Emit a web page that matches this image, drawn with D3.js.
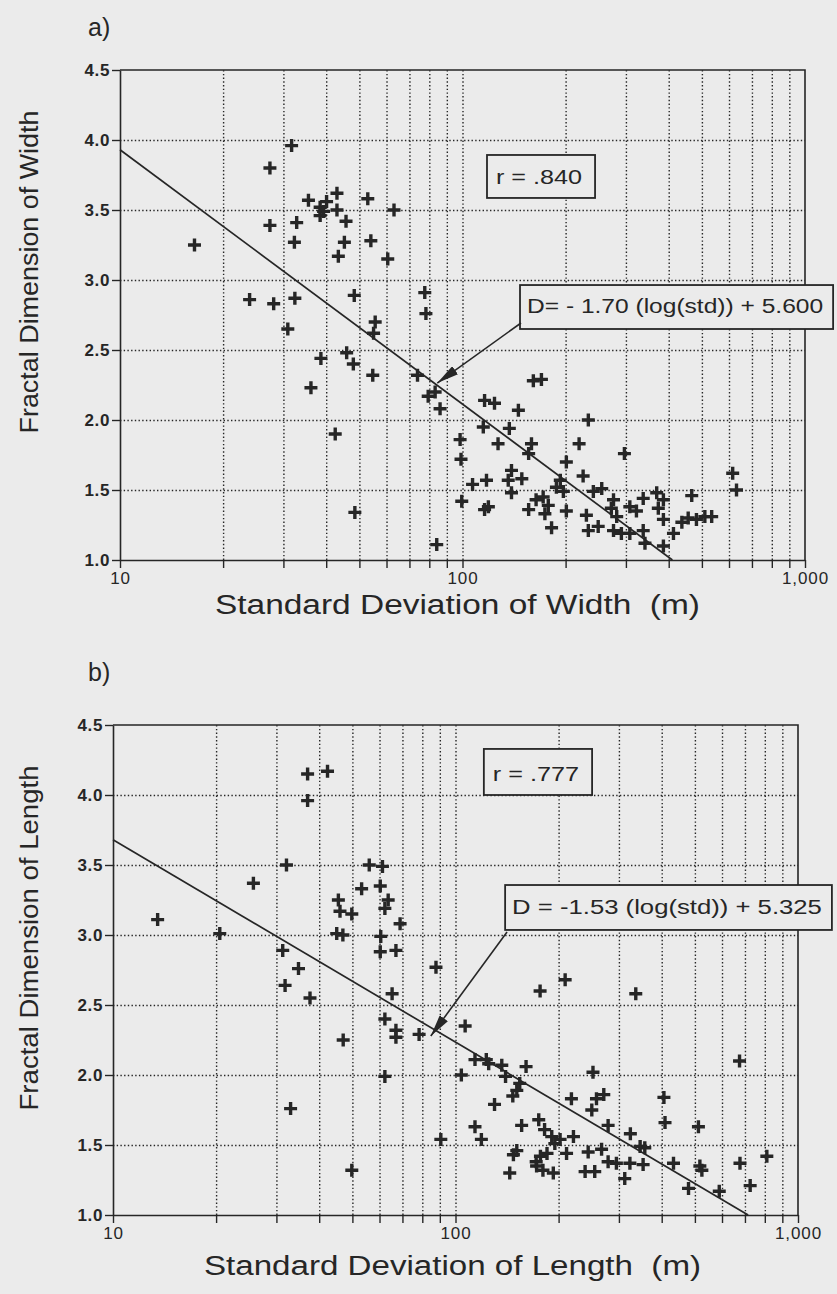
<!DOCTYPE html>
<html>
<head>
<meta charset="utf-8">
<script src="https://cdn.jsdelivr.net/npm/d3@7"></script>
<style>
    body { margin:0; background:#ebebeb; }
    svg { display:block; }
    text { font-family: "Liberation Sans", Arial, Helvetica, sans-serif; fill:#262626; }
</style>
</head>
<body>
<div id="chart"></div>
<script>

//******************************************************************************
//**  Data
//******************************************************************************

  //Panel a: std of width (m) vs fractal dimension of width
    var widthStd = [
        31.7, 27.4, 16.5, 35.5, 38.4, 40.1, 39.3, 38.4, 43.0, 43.0,
        45.7, 52.9, 63.1, 27.4, 32.8, 32.3, 45.2, 43.4, 54.0, 60.5,
        23.9, 28.1, 32.4, 48.3, 77.6, 30.9, 55.6, 55.0, 78.2, 38.6,
        45.9, 48.0, 54.7, 36.1, 73.9, 79.4, 83.2, 86.0, 42.5, 48.5,
        84.1, 161, 170, 116, 124, 145.6, 115, 137, 98.4, 99,
        127, 159, 156, 233, 219, 297, 201, 225, 139, 136,
        149, 117.5, 107, 139, 99.5, 116, 119, 193, 188, 197,
        172, 164, 178, 156, 174, 201, 182, 230, 241, 255,
        233, 249, 276, 272, 282, 276, 291, 308, 322, 308,
        337, 341, 337, 369, 386, 373, 386, 386, 413, 437,
        467, 456, 482, 510, 534, 615, 631
    ];
    var widthD = [
        3.96, 3.80, 3.25, 3.57, 3.52, 3.56, 3.49, 3.46, 3.62, 3.50,
        3.42, 3.58, 3.50, 3.39, 3.41, 3.27, 3.27, 3.17, 3.28, 3.15,
        2.86, 2.83, 2.87, 2.89, 2.91, 2.65, 2.70, 2.62, 2.76, 2.44,
        2.48, 2.40, 2.32, 2.23, 2.32, 2.17, 2.20, 2.08, 1.90, 1.34,
        1.11, 2.28, 2.29, 2.14, 2.12, 2.07, 1.95, 1.94, 1.86, 1.72,
        1.83, 1.83, 1.76, 2.00, 1.83, 1.76, 1.70, 1.60, 1.64, 1.57,
        1.58, 1.57, 1.54, 1.48, 1.42, 1.36, 1.38, 1.57, 1.52, 1.49,
        1.45, 1.43, 1.39, 1.36, 1.33, 1.35, 1.23, 1.32, 1.49, 1.51,
        1.21, 1.24, 1.43, 1.37, 1.31, 1.21, 1.19, 1.38, 1.35, 1.19,
        1.21, 1.12, 1.44, 1.48, 1.43, 1.37, 1.29, 1.10, 1.19, 1.27,
        1.46, 1.30, 1.29, 1.31, 1.31, 1.62, 1.50
    ];

  //Panel b: std of length (m) vs fractal dimension of length
    var lengthStd = [
        37, 42.3, 37, 32.1, 56, 61.2, 25.7, 53.2, 60.3, 45.5,
        63.6, 46, 49.8, 62.2, 68.9, 13.5, 20.5, 45, 46.9, 60.5,
        60.3, 67, 31.3, 34.8, 31.8, 37.6, 87.7, 65.3, 62.2, 67,
        67, 78.3, 47, 62.2, 33, 90.6, 49.8, 209, 176.6, 336,
        106.7, 114, 123, 125, 136.5, 160.7, 140, 104, 252, 675,
        154, 151, 147, 130, 218, 258, 271, 250, 406, 409,
        512, 279, 324, 114, 119, 156, 175, 182, 191, 195,
        202, 221, 211, 147.6, 151, 177, 185, 172.5, 180, 193,
        144, 244, 267, 239, 255, 279, 295, 323, 312, 346,
        357, 353, 433, 517, 524, 479, 589, 677, 725, 811,
        172
    ];
    var lengthD = [
        4.15, 4.17, 3.96, 3.50, 3.50, 3.49, 3.37, 3.33, 3.35, 3.25,
        3.25, 3.17, 3.15, 3.19, 3.08, 3.11, 3.01, 3.01, 3.00, 2.99,
        2.88, 2.89, 2.89, 2.76, 2.64, 2.55, 2.77, 2.58, 2.40, 2.32,
        2.27, 2.29, 2.25, 1.99, 1.76, 1.54, 1.32, 2.68, 2.60, 2.58,
        2.35, 2.11, 2.11, 2.08, 2.07, 2.06, 1.99, 2.00, 2.02, 2.10,
        1.94, 1.89, 1.85, 1.79, 1.83, 1.83, 1.86, 1.75, 1.84, 1.66,
        1.63, 1.64, 1.58, 1.63, 1.54, 1.64, 1.68, 1.61, 1.56, 1.51,
        1.54, 1.56, 1.44, 1.43, 1.46, 1.42, 1.44, 1.35, 1.32, 1.30,
        1.30, 1.45, 1.47, 1.31, 1.31, 1.38, 1.37, 1.37, 1.26, 1.49,
        1.48, 1.36, 1.37, 1.35, 1.32, 1.19, 1.17, 1.37, 1.21, 1.42,
        1.38
    ];

  //Fitted lines as drawn (end points)
    var widthFitStd = [10, 410];
    var widthFitD   = [3.93, 1.0];
    var lengthFitStd = [10, 715];
    var lengthFitD   = [3.68, 1.0];

  //Axes
    var yTicks = [1.0, 1.5, 2.0, 2.5, 3.0, 3.5, 4.0, 4.5];
    var xGrid = [20, 30, 40, 50, 60, 70, 80, 90, 100, 200, 300, 400, 500, 600, 700, 800, 900];
    var xTicks = [10, 20, 30, 40, 50, 60, 70, 80, 90, 100, 200, 300, 400, 500, 600, 700, 800, 900, 1000];
    var xTickLabels = {10: "10", 100: "100", 1000: "1,000"};


//******************************************************************************
//**  Layout
//******************************************************************************
    var panels = [
        {
            tag: "a)", tagX: 88, tagY: 36,
            left: 120, right: 805, top: 70, bottom: 560,
            std: widthStd, d: widthD,
            fitStd: widthFitStd, fitD: widthFitD,
            yTitle: "Fractal Dimension of Width", yTitleX: 38, yTitleMid: 272, yTitleLen: 323,
            xTitle: "Standard Deviation of Width  (m)", xTitleX: 215, xTitleY: 614, xTitleLen: 485,
            rText: "r = .840", rBox: [117.9, 243.8, 3.893, 3.586],
            eqText: "D= - 1.70 (log(std)) + 5.600", eqBox: [147.2, 1208, 2.964, 2.65],
            arrow: [148.2, 2.693, 84.4, 2.264]
        },
        {
            tag: "b)", tagX: 88, tagY: 681,
            left: 113, right: 798, top: 725, bottom: 1215,
            std: lengthStd, d: lengthD,
            fitStd: lengthFitStd, fitD: lengthFitD,
            yTitle: "Fractal Dimension of Length", yTitleX: 38, yTitleMid: 938, yTitleLen: 345,
            xTitle: "Standard Deviation of Length  (m)", xTitleX: 204, xTitleY: 1275, xTitleLen: 497,
            rText: "r = .777", rBox: [121, 250.5, 4.329, 4.0],
            eqText: "D = -1.53 (log(std)) + 5.325", eqBox: [139.6, 1256, 3.357, 3.036],
            arrow: [141.4, 3.021, 84.7, 2.279]
        }
    ];

    var ink = "#262626";
    var bg = "#ebebeb";


    var svg = d3.select("#chart").append("svg")
        .attr("width", 837)
        .attr("height", 1294);

    svg.append("rect")
        .attr("width", 837).attr("height", 1294)
        .attr("fill", bg);

    var defs = svg.append("defs");
    defs.append("marker")
        .attr("id", "head")
        .attr("viewBox", "0 0 22 10")
        .attr("refX", 22).attr("refY", 5)
        .attr("markerUnits", "userSpaceOnUse")
        .attr("markerWidth", 22).attr("markerHeight", 10)
        .attr("orient", "auto")
      .append("path")
        .attr("d", "M0,0L22,5L0,10Z")
        .attr("fill", ink);


//******************************************************************************
//**  drawPanel
//******************************************************************************
    var drawPanel = function(p){

        var x = d3.scaleLog().domain([10, 1000]).range([p.left, p.right]);
        var y = d3.scaleLinear().domain([1, 4.5]).range([p.bottom, p.top]);
        var w = p.right - p.left;
        var h = p.bottom - p.top;

        var g = svg.append("g");


      //Dotted grid
        g.append("g")
            .attr("transform", "translate(0," + p.bottom + ")")
            .call(d3.axisBottom(x).tickValues(xGrid).tickSize(-h).tickFormat(""))
            .call(function(s){
                s.select(".domain").remove();
                s.selectAll("line")
                    .attr("stroke", ink).attr("stroke-width", 1.4)
                    .attr("stroke-dasharray", "1.4,2.3");
            });

        g.append("g")
            .attr("transform", "translate(" + p.left + ",0)")
            .call(d3.axisLeft(y).tickValues(yTicks.slice(1, -1)).tickSize(-w).tickFormat(""))
            .call(function(s){
                s.select(".domain").remove();
                s.selectAll("line")
                    .attr("stroke", ink).attr("stroke-width", 1.4)
                    .attr("stroke-dasharray", "1.4,2.3");
            });


      //Axes with outside ticks
        g.append("g")
            .attr("transform", "translate(0," + p.bottom + ")")
            .call(d3.axisBottom(x).tickValues(xTicks).tickSize(8).tickSizeOuter(0).tickPadding(4)
                .tickFormat(function(v){ return xTickLabels[v] || ""; }))
            .call(function(s){
                s.select(".domain").attr("stroke", ink).attr("stroke-width", 1.6);
                s.selectAll("line").attr("stroke", ink).attr("stroke-width", 1.4);
                s.selectAll("text").attr("font-size", 17).attr("fill", ink)
                    .attr("letter-spacing", 0.9);
            });

        g.append("g")
            .attr("transform", "translate(" + p.left + ",0)")
            .call(d3.axisLeft(y).tickValues(yTicks).tickSize(8).tickSizeOuter(0).tickPadding(2)
                .tickFormat(d3.format(".1f")))
            .call(function(s){
                s.select(".domain").attr("stroke", ink).attr("stroke-width", 1.6);
                s.selectAll("line").attr("stroke", ink).attr("stroke-width", 1.4);
                s.selectAll("text").attr("font-size", 17).attr("fill", ink)
                    .attr("font-weight", "bold").attr("letter-spacing", 0.6);
            });


      //Top and right frame
        g.append("path")
            .attr("d", "M" + p.left + "," + p.top + "H" + p.right + "V" + p.bottom)
            .attr("fill", "none").attr("stroke", ink).attr("stroke-width", 1.6);


      //Fitted line
        var line = d3.line()
            .x(function(i){ return x(p.fitStd[i]); })
            .y(function(i){ return y(p.fitD[i]); });
        g.append("path")
            .attr("d", line(d3.range(p.fitStd.length)))
            .attr("fill", "none").attr("stroke", ink).attr("stroke-width", 1.7);


      //Points
        g.append("g").selectAll("path")
            .data(d3.range(p.std.length))
            .enter().append("path")
            .attr("transform", function(i){
                return "translate(" + x(p.std[i]) + "," + y(p.d[i]) + ")";
            })
            .attr("d", "M-6.5,0H6.5M0,-6.5V6.5")
            .attr("stroke", ink).attr("stroke-width", 3.4);


      //Correlation box
        var b = p.rBox;
        g.append("rect")
            .attr("x", x(b[0])).attr("y", y(b[2]))
            .attr("width", x(b[1]) - x(b[0])).attr("height", y(b[3]) - y(b[2]))
            .attr("fill", bg).attr("stroke", ink).attr("stroke-width", 1.8);
        g.append("text")
            .attr("x", x(b[0]) + 9).attr("y", y(b[3]) - 14)
            .attr("font-size", 20)
            .attr("textLength", x(b[1]) - x(b[0]) - 22)
            .attr("lengthAdjust", "spacingAndGlyphs")
            .text(p.rText);


      //Equation box and arrow
        var e = p.eqBox;
        g.append("rect")
            .attr("x", x(e[0])).attr("y", y(e[2]))
            .attr("width", x(e[1]) - x(e[0])).attr("height", y(e[3]) - y(e[2]))
            .attr("fill", bg).attr("stroke", ink).attr("stroke-width", 1.8);
        g.append("text")
            .attr("x", x(e[0]) + 7).attr("y", y(e[3]) - 16)
            .attr("font-size", 20)
            .attr("textLength", x(e[1]) - x(e[0]) - 17)
            .attr("lengthAdjust", "spacingAndGlyphs")
            .text(p.eqText);

        var a = p.arrow;
        g.append("line")
            .attr("x1", x(a[0])).attr("y1", y(a[1]))
            .attr("x2", x(a[2])).attr("y2", y(a[3]))
            .attr("stroke", ink).attr("stroke-width", 1.6)
            .attr("marker-end", "url(#head)");


      //Titles
        svg.append("text")
            .attr("x", p.tagX).attr("y", p.tagY)
            .attr("font-size", 25)
            .text(p.tag);

        svg.append("text")
            .attr("transform", "translate(" + p.yTitleX + "," + p.yTitleMid + ") rotate(-90)")
            .attr("text-anchor", "middle")
            .attr("font-size", 25)
            .attr("textLength", p.yTitleLen)
            .attr("lengthAdjust", "spacingAndGlyphs")
            .text(p.yTitle);

        svg.append("text")
            .attr("x", p.xTitleX).attr("y", p.xTitleY)
            .attr("font-size", 27)
            .attr("textLength", p.xTitleLen)
            .attr("lengthAdjust", "spacingAndGlyphs")
            .style("white-space", "pre")
            .text(p.xTitle);
    };


    panels.forEach(drawPanel);

</script>
</body>
</html>
